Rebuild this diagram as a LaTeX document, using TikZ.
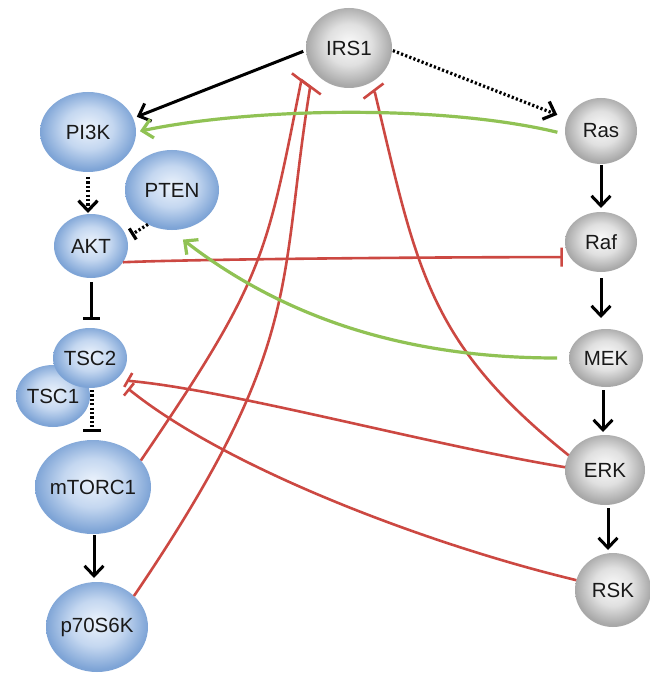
\documentclass[tikz,border=0pt]{standalone}
\usepackage{fontspec}
\setmainfont{Liberation Sans}
\usetikzlibrary{shapes.geometric,arrows.meta}
\definecolor{redl}{RGB}{204,72,66}
\definecolor{greenl}{RGB}{144,194,84}
\definecolor{txt}{RGB}{25,25,25}
\definecolor{bA}{RGB}{236,243,252}
\definecolor{bB}{RGB}{196,215,240}
\definecolor{bC}{RGB}{126,164,214}
\definecolor{gA}{RGB}{250,250,250}
\definecolor{gB}{RGB}{224,224,224}
\definecolor{gC}{RGB}{168,168,168}
\pgfdeclareradialshading{blueball}{\pgfpoint{0bp}{3bp}}{color(0bp)=(bA); color(13bp)=(bB); color(25bp)=(bC); color(50bp)=(bC)}
\pgfdeclareradialshading{greyball}{\pgfpoint{0bp}{3bp}}{color(0bp)=(gA); color(13bp)=(gB); color(25bp)=(gC); color(50bp)=(gC)}
\tikzset{
  nd/.style={ellipse, inner xsep=-10pt, inner ysep=0pt, outer sep=0pt, font=\fontsize{20.5}{24}\selectfont, text=txt},
  bnode/.style={nd, shade, shading=blueball},
  gnode/.style={nd, shade, shading=greyball},
  act/.style={line width=3pt, black, -{Straight Barb[length=10pt,width=19pt]}},
  dots/.style={line width=3.2pt, dash pattern=on 2.2pt off 2.2pt},
  inh/.style={line width=3pt, black, -{Bar[width=17pt]}},
  rinh/.style={line width=2.6pt, redl, -{Bar[width=21pt]}},
  gact/.style={line width=3.2pt, greenl, -{Straight Barb[length=10pt,width=19pt]}},
}
\begin{document}
\begin{tikzpicture}[x=1pt,y=-1pt]
\fill[white] (0,0) rectangle (649,676);
\useasboundingbox (0,0) rectangle (649,676);
% nodes
\node[bnode, minimum width=96pt, minimum height=80pt] (PI3K) at (88,132) {PI3K};
\node[bnode, minimum width=94pt, minimum height=80pt] (PTEN) at (172,190) {PTEN};
\node[bnode, minimum width=74pt, minimum height=64pt] (AKT) at (91,246) {AKT};
\node[bnode, minimum width=74pt, minimum height=62pt] (TSC1) at (53,396) {TSC1};
\node[bnode, minimum width=74pt, minimum height=60pt] (TSC2) at (90,358) {TSC2};
\node[bnode, minimum width=116pt, minimum height=94pt] (mTORC1) at (93,487) {mTORC1};
\node[bnode, minimum width=102pt, minimum height=90pt] (p70) at (97,627) {p70S6K};
\node[gnode, minimum width=86pt, minimum height=80pt] (IRS1) at (349,48) {IRS1};
\node[gnode, minimum width=72pt, minimum height=66pt] (Ras) at (601,131) {Ras};
\node[gnode, minimum width=72pt, minimum height=60pt] (Raf) at (601,242) {Raf};
\node[gnode, minimum width=74pt, minimum height=58pt] (MEK) at (606,358) {MEK};
\node[gnode, minimum width=80pt, minimum height=70pt] (ERK) at (605,470) {ERK};
\node[gnode, minimum width=76pt, minimum height=74pt] (RSK) at (613,590) {RSK};
% black connectors
\draw[act, shorten <=3pt, shorten >=4pt] (IRS1.183) -- (PI3K.17);
\draw[act, dots, shorten <=1pt, shorten >=11pt] (IRS1.-3) -- (Ras.160);
\draw[act, dots, shorten <=5pt, shorten >=1pt] (PI3K.south) -- (PI3K.south |- AKT.north);
\draw[inh, dots, -{Bar[width=13pt]}, shorten >=5.5pt] (PTEN.235) -- (AKT.13);
\draw[act, shorten <=1pt, shorten >=4pt] (Ras.south) -- (Raf.north);
\draw[act, shorten <=6pt, shorten >=11pt] (Raf.south) -- (Raf.south |- MEK.north);
\draw[act, shorten <=3pt, shorten >=3pt] ([xshift=-3pt]MEK.south) -- ([xshift=-3pt]MEK.south |- ERK.north);
\draw[act, shorten <=3pt, shorten >=3pt] ([xshift=3pt]ERK.south) -- ([xshift=3pt]ERK.south |- RSK.north);
\draw[inh, shorten <=4pt, shorten >=8pt] (AKT.south) -- (AKT.south |- TSC2.north);
\draw[inh, dots, -{Bar[width=18pt]}, shorten <=2pt, shorten >=8pt] ([xshift=2pt]TSC2.south) -- ([xshift=2pt]TSC2.south |- mTORC1.north);
\draw[act, shorten <=1pt, shorten >=4pt] ([xshift=1pt]mTORC1.south) -- ([xshift=1pt]mTORC1.south |- p70.north);
% red inhibitions
\draw[rinh, -{Bar[width=19pt]}, shorten >=7pt] (AKT.-27) .. controls (200,259) and (450,257) .. (Raf.206);
\draw[rinh, -{Bar[width=25pt]}, shorten >=15pt] (mTORC1.29) .. controls (265,278) and (266,257) .. (301,82) -- (IRS1.208);
\draw[rinh, -{Bar[width=25pt]}, shorten >=12pt] (p70.40) .. controls (305,344) and (278,286) .. (310,88) -- (IRS1.223);
\draw[rinh, -{Bar[width=25pt]}, shorten >=7.7pt] (ERK.158) .. controls (427,342) and (417,268) .. (375,93) -- (IRS1.-62);
\draw[rinh, -{Bar[width=16pt]}, shorten >=8pt] (ERK.176) .. controls (430,445) and (230,390) .. (130,381) -- (TSC2);
\draw[rinh, -{Bar[width=16pt]}, shorten >=15pt] (RSK.165) .. controls (430,545) and (230,470) .. (131,391) -- (TSC2);
% green activations
\draw[gact, shorten <=8pt, shorten >=4pt] (Ras.185) .. controls (440,104) and (250,108) .. (PI3K.east);
\draw[gact, shorten <=12pt, shorten >=15.6pt] (MEK.180) .. controls (430,358) and (300,330) .. (186,242) -- (PTEN.-92);
\end{tikzpicture}
\end{document}
